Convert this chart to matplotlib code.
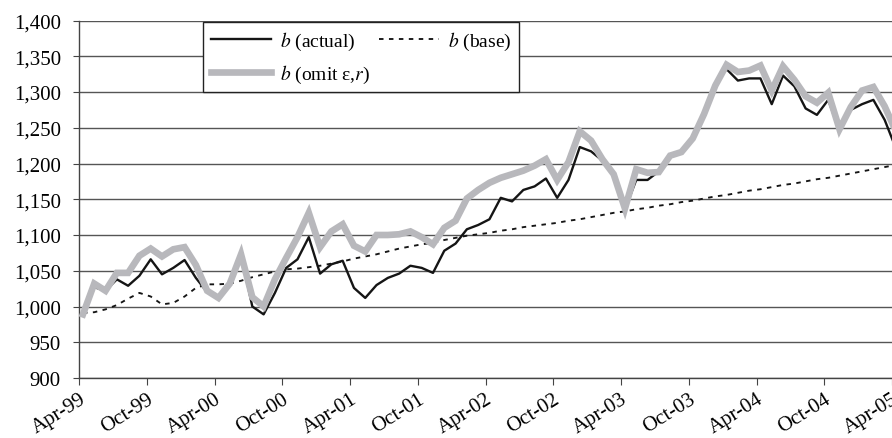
import numpy as np
import matplotlib
matplotlib.use("Agg")
import matplotlib.pyplot as plt
from matplotlib.transforms import ScaledTranslation

# monthly series, Apr-99 .. Apr-05
b_actual = [992, 1027, 1022, 1038, 1029, 1043, 1066, 1045, 1054, 1065,
            1040, 1020, 1012, 1031, 1072, 1000, 989, 1019, 1054, 1066,
            1097, 1046, 1059, 1064, 1026, 1012, 1030, 1040, 1046, 1057,
            1054, 1047, 1078, 1088, 1108, 1114, 1122, 1152, 1147, 1163,
            1168, 1179, 1152, 1177, 1223, 1217, 1204, 1183, 1136, 1177,
            1177, 1189, 1211, 1217, 1236, 1267, 1313, 1332, 1316, 1319,
            1319, 1283, 1323, 1308, 1277, 1268, 1289, 1246, 1275, 1283,
            1289, 1261, 1221]
b_base = [991, 992, 996, 1002, 1011, 1019, 1014, 1003, 1005, 1014,
          1026, 1031, 1031, 1032, 1036, 1041, 1045, 1049, 1052, 1053,
          1055, 1057, 1060, 1063, 1067, 1070, 1073, 1077, 1081, 1084,
          1087, 1089, 1093, 1096, 1099, 1101, 1103, 1106, 1108, 1111,
          1113, 1115, 1117, 1120, 1122, 1125, 1128, 1131, 1133, 1136,
          1138, 1141, 1143, 1146, 1148, 1151, 1154, 1156, 1159, 1162,
          1164, 1167, 1170, 1172, 1175, 1178, 1180, 1183, 1186, 1189,
          1192, 1195, 1198]
b_omit = [989, 1032, 1022, 1047, 1047, 1071, 1081, 1070, 1080, 1083,
          1058, 1022, 1012, 1032, 1073, 1013, 1000, 1038, 1068, 1097,
          1131, 1083, 1105, 1115, 1085, 1077, 1100, 1100, 1101, 1105,
          1097, 1087, 1110, 1120, 1151, 1163, 1173, 1180, 1185, 1190,
          1197, 1206, 1177, 1202, 1245, 1232, 1206, 1185, 1137, 1192,
          1187, 1188, 1211, 1216, 1235, 1269, 1309, 1338, 1328, 1330,
          1337, 1302, 1336, 1317, 1294, 1285, 1299, 1248, 1279, 1302,
          1307, 1280, 1245]

x_labels = ["Apr-99", "Oct-99", "Apr-00", "Oct-00", "Apr-01", "Oct-01", "Apr-02",
            "Oct-02", "Apr-03", "Oct-03", "Apr-04", "Oct-04", "Apr-05"]
y_ticks = [900, 950, 1000, 1050, 1100, 1150, 1200, 1250, 1300, 1350, 1400]
y_labels = ["900", "950", "1,000", "1,050", "1,100", "1,150", "1,200",
            "1,250", "1,300", "1,350", "1,400"]

plt.rcParams['font.family'] = ['Liberation Serif', 'DejaVu Serif']
plt.rcParams['mathtext.fontset'] = 'stix'

fig = plt.figure(figsize=(8.92, 4.39), dpi=100)
ax = fig.add_axes([79/892, 1 - 379/439, 1 - 79/892, (379 - 21.5)/439])

months = np.arange(len(b_actual))
ln_act, = ax.plot(months, b_actual, color='#151515', lw=1.7, zorder=3)
ln_base, = ax.plot(months, b_base, color='#151515', lw=1.35,
                   linestyle=(0, (2.4, 2.9)), zorder=2)
ln_omit, = ax.plot(months, b_omit, color='#b8b8bc', lw=4.8, zorder=4,
                   solid_joinstyle='miter')

# ticks sit ~1/3 month before the data points
tick_pos = np.arange(0, 73, 6) - 0.35
ax.set_xlim(tick_pos[0], tick_pos[-1])
ax.set_ylim(900, 1400)
ax.set_xticks(tick_pos)
ax.set_xticklabels(x_labels, rotation=32, ha='right', rotation_mode='anchor',
                   fontsize=15)
offset = ScaledTranslation(5/72, 0, fig.dpi_scale_trans)
for lab in ax.get_xticklabels():
    lab.set_transform(lab.get_transform() + offset)
ax.set_yticks(y_ticks)
ax.set_yticklabels(y_labels, fontsize=15)

ax.yaxis.grid(True, color='#555555', lw=1.0)
ax.set_axisbelow(True)
for s in ['top', 'right']:
    ax.spines[s].set_visible(False)
for s in ['left', 'bottom']:
    ax.spines[s].set_color('#444444')
    ax.spines[s].set_linewidth(1.0)
ax.tick_params(axis='y', length=4, color='#444444', pad=9)
ax.tick_params(axis='x', length=5, color='#444444', pad=3)

leg = ax.legend([ln_act, ln_omit, ln_base],
                ["$b$ (actual)", "$b$ (omit ε,$r$)", "$b$ (base)"],
                ncol=2, loc='upper left',
                bbox_to_anchor=(124/813, 0.996),
                borderaxespad=0, fontsize=14,
                handlelength=3.1, handletextpad=0.45, columnspacing=0.45,
                labelspacing=0.55, borderpad=0.4, fancybox=False,
                framealpha=1, edgecolor='#222222')
leg.get_frame().set_linewidth(1.0)
leg.set_zorder(5)

# stretch the frame to the width seen in the reference
fig.canvas.draw()
frame = leg.get_frame()
bb = frame.get_bbox()
frame.set_bounds(bb.x0, bb.y0, 337, bb.height)

fig.savefig('out.png', dpi=100)
